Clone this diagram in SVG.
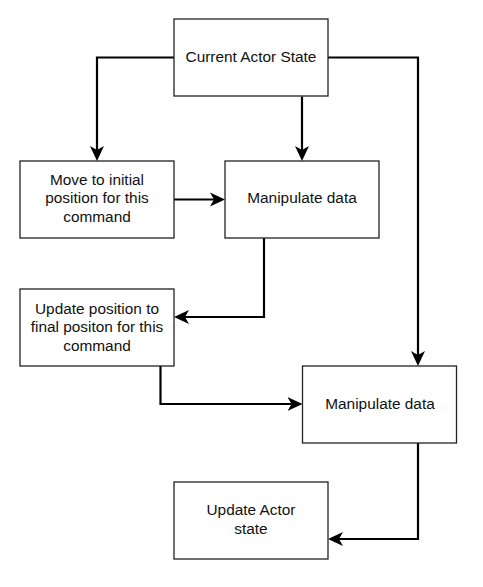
<svg xmlns="http://www.w3.org/2000/svg" width="483" height="587" viewBox="0 0 483 587">
  <style>
    .box { fill: #ffffff; stroke: #222222; stroke-width: 1.3; }
    .lbl { font-family: "Liberation Sans", Arial, Helvetica, sans-serif; font-size: 15.4px; fill: #111111; text-anchor: middle; }
    .edge { fill: none; stroke: #000000; stroke-width: 2.2; }
  </style>
  <defs>
    <marker id="arrow" viewBox="0 0 15 15" refX="4" refY="7.5" markerWidth="15" markerHeight="15" orient="auto" markerUnits="userSpaceOnUse">
      <path d="M0,0.5 L15,7.5 L0,14.5 L4,7.5 Z" fill="#000000"/>
    </marker>
  </defs>
  <rect width="483" height="587" fill="#ffffff"/>

  <g id="connectors">
    <path class="edge" d="M174,57.5 H97 V150" marker-end="url(#arrow)"/>
    <path class="edge" d="M302,96.5 V150" marker-end="url(#arrow)"/>
    <path class="edge" d="M328,57.5 H418 V355" marker-end="url(#arrow)"/>
    <path class="edge" d="M174,199.5 H214" marker-end="url(#arrow)"/>
    <path class="edge" d="M264,238 V317 H185" marker-end="url(#arrow)"/>
    <path class="edge" d="M160.5,366 V404 H291.5" marker-end="url(#arrow)"/>
    <path class="edge" d="M418,443 V539 H339" marker-end="url(#arrow)"/>
  </g>

  <g id="current-actor-state">
    <rect class="box" x="174" y="19" width="154" height="77"/>
    <text class="lbl" x="251" y="61.5">Current Actor State</text>
  </g>
  <g id="move-initial">
    <rect class="box" x="20" y="161" width="154" height="77"/>
    <text class="lbl" x="97" y="184.5">Move to initial</text>
    <text class="lbl" x="97" y="203">position for this</text>
    <text class="lbl" x="97" y="221.5">command</text>
  </g>
  <g id="manipulate-1">
    <rect class="box" x="225" y="161" width="154" height="77"/>
    <text class="lbl" x="302" y="203">Manipulate data</text>
  </g>
  <g id="update-position">
    <rect class="box" x="20" y="289" width="154" height="77"/>
    <text class="lbl" x="97" y="313.5">Update position to</text>
    <text class="lbl" x="97" y="332">final positon for this</text>
    <text class="lbl" x="97" y="350.5">command</text>
  </g>
  <g id="manipulate-2">
    <rect class="box" x="302.5" y="366" width="154" height="77"/>
    <text class="lbl" x="380" y="408.5">Manipulate data</text>
  </g>
  <g id="update-actor-state">
    <rect class="box" x="174" y="482" width="154" height="77"/>
    <text class="lbl" x="251" y="515">Update Actor</text>
    <text class="lbl" x="251" y="533.5">state</text>
  </g>
</svg>
